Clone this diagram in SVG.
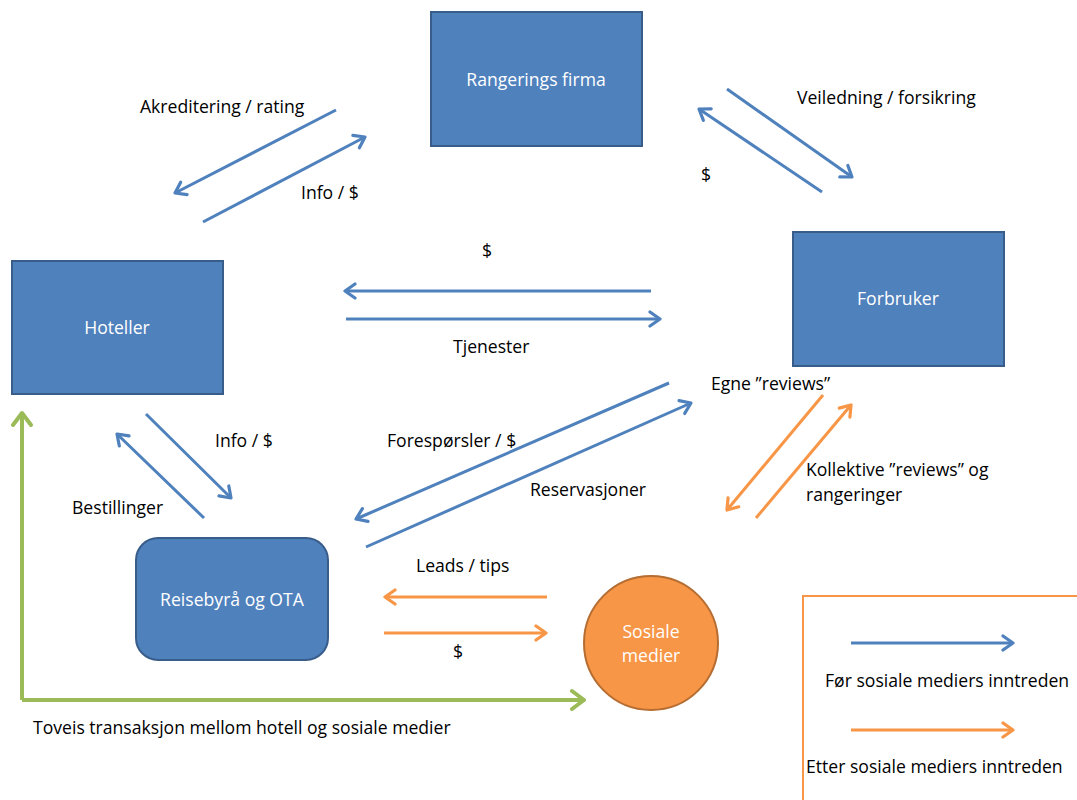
<svg xmlns="http://www.w3.org/2000/svg" width="1077" height="800" viewBox="0 0 1077 800">
<defs>
<marker id="ab" markerUnits="userSpaceOnUse" markerWidth="20" markerHeight="20" refX="12" refY="8" orient="auto" viewBox="0 0 20 16">
<path d="M2,1 L12,8 L2,15" fill="none" stroke="#4f81bd" stroke-width="3.2" stroke-linecap="round" stroke-linejoin="round"/>
</marker>
<marker id="ao" markerUnits="userSpaceOnUse" markerWidth="20" markerHeight="20" refX="12" refY="8" orient="auto" viewBox="0 0 20 16">
<path d="M2,1 L12,8 L2,15" fill="none" stroke="#f79646" stroke-width="3.2" stroke-linecap="round" stroke-linejoin="round"/>
</marker>
<marker id="ag" markerUnits="userSpaceOnUse" markerWidth="24" markerHeight="24" refX="14" refY="10" orient="auto" viewBox="0 0 24 20">
<path d="M2,1 L14,10 L2,19" fill="none" stroke="#9bbb59" stroke-width="4" stroke-linecap="round" stroke-linejoin="round"/>
</marker>
</defs>
<style>
.box{fill:#4f81bd;stroke:#385d8a;stroke-width:2}
.circ{fill:#f79646;stroke:#b66d31;stroke-width:2}
.wt{fill:#ffffff;font-family:"Open Sans","Liberation Sans",sans-serif;font-size:17.6px;text-anchor:middle}
.t{fill:#000000;font-family:"Open Sans","Liberation Sans",sans-serif;font-size:17.6px}
.b{stroke:#4f81bd;stroke-width:3;fill:none;marker-end:url(#ab)}
.o{stroke:#f79646;stroke-width:3;fill:none;marker-end:url(#ao)}
.g{stroke:#9bbb59;stroke-width:4;fill:none;marker-end:url(#ag)}
</style>
<rect width="1077" height="800" fill="#ffffff"/>
<g id="rangerings">
<rect class="box" x="431" y="12" width="211" height="134"/>
<text class="wt" x="536" y="86">Rangerings firma</text>
</g>
<g id="hoteller">
<rect class="box" x="12" y="261" width="211" height="133"/>
<text class="wt" x="117" y="334">Hoteller</text>
</g>
<g id="forbruker">
<rect class="box" x="793" y="232" width="211" height="134"/>
<text class="wt" x="898" y="305">Forbruker</text>
</g>
<g id="reisebyraa">
<rect class="box" x="136" y="538" width="192" height="122" rx="22" ry="22"/>
<text class="wt" x="232" y="606">Reisebyrå og OTA</text>
</g>
<g id="sosiale">
<circle class="circ" cx="651" cy="643" r="67"/>
<text class="wt" x="651" y="638">Sosiale</text>
<text class="wt" x="651" y="662">medier</text>
</g>
<g id="legend">
<rect x="803" y="596" width="290" height="220" fill="none" stroke="#f79646" stroke-width="2"/>
<line class="b" x1="851" y1="643" x2="1013" y2="643"/>
<text class="t" x="825" y="687">Før sosiale mediers inntreden</text>
<line class="o" x1="851" y1="730" x2="1013" y2="730"/>
<text class="t" x="806" y="773">Etter sosiale mediers inntreden</text>
</g>
<g id="connectors">
<line class="b" x1="336" y1="110" x2="175" y2="193"/>
<line class="b" x1="203" y1="222" x2="365" y2="137"/>
<line class="b" x1="727" y1="89" x2="852" y2="177"/>
<line class="b" x1="822" y1="192" x2="699" y2="109"/>
<line class="b" x1="651" y1="291" x2="345" y2="291"/>
<line class="b" x1="346" y1="319" x2="660" y2="319"/>
<line class="b" x1="669" y1="383" x2="356" y2="519"/>
<line class="b" x1="366" y1="547" x2="691" y2="403"/>
<line class="b" x1="146" y1="414" x2="231" y2="498"/>
<line class="b" x1="204" y1="518" x2="117" y2="434"/>
<line class="o" x1="823" y1="395" x2="727" y2="510"/>
<line class="o" x1="756" y1="518" x2="851" y2="405"/>
<line class="o" x1="547" y1="597" x2="385" y2="597"/>
<line class="o" x1="384" y1="633" x2="546" y2="633"/>
<path class="g" d="M22,700 L22,413"/>
<path class="g" d="M22,700 L584,700"/>
</g>
<g id="labels">
<text class="t" x="140" y="113">Akreditering / rating</text>
<text class="t" x="301" y="199">Info / $</text>
<text class="t" x="797" y="104">Veiledning / forsikring</text>
<text class="t" x="701" y="181">$</text>
<text class="t" x="482" y="257">$</text>
<text class="t" x="453" y="353">Tjenester</text>
<text class="t" x="711" y="390">Egne ”reviews”</text>
<text class="t" x="215" y="447">Info / $</text>
<text class="t" x="387" y="447">Forespørsler / $</text>
<text class="t" x="806" y="476">Kollektive ”reviews” og</text>
<text class="t" x="806" y="501">rangeringer</text>
<text class="t" x="72" y="514">Bestillinger</text>
<text class="t" x="530" y="496">Reservasjoner</text>
<text class="t" x="416" y="572">Leads / tips</text>
<text class="t" x="453" y="658">$</text>
<text class="t" x="33" y="734">Toveis transaksjon mellom hotell og sosiale medier</text>
</g>
</svg>
